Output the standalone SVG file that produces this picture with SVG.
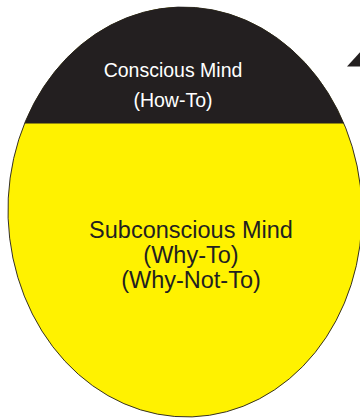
<svg xmlns="http://www.w3.org/2000/svg" width="360" height="418" viewBox="0 0 360 418">
  <style>
    .lbl { font-family: "Liberation Sans", Arial, sans-serif; text-anchor: middle; }
    .top { fill: #ffffff; font-size: 19.5px; }
    .bot { fill: #231f20; font-size: 23.5px; }
    .egg { transform: rotate(-2deg); transform-origin: 185px 212px; }
  </style>
  <defs>
    <clipPath id="capClip">
      <rect x="0" y="0" width="360" height="123.5"/>
    </clipPath>
  </defs>
  <rect width="360" height="418" fill="#ffffff"/>
  <!-- subconscious body -->
  <g id="subconscious">
    <ellipse class="egg" cx="185" cy="212" rx="177" ry="205" fill="#fff200" stroke="#231f20" stroke-width="0.9"/>
    <text class="lbl bot" x="191" y="238">Subconscious Mind</text>
    <text class="lbl bot" x="191" y="263">(Why-To)</text>
    <text class="lbl bot" x="191" y="288">(Why-Not-To)</text>
  </g>
  <!-- conscious cap -->
  <g id="conscious">
    <g clip-path="url(#capClip)">
      <ellipse class="egg" cx="185" cy="212" rx="177" ry="205" fill="#231f20"/>
    </g>
    <text class="lbl top" x="173" y="77">Conscious Mind</text>
    <text class="lbl top" x="173" y="107">(How-To)</text>
  </g>
  <g id="connectors">
    <polygon points="347,66.5 362,50 362,66.5" fill="#231f20"/>
  </g>
</svg>
